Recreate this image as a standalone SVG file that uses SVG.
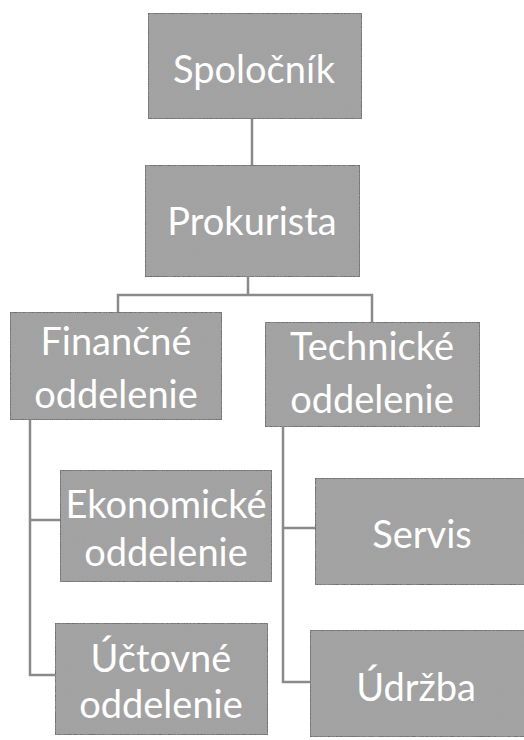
<svg xmlns="http://www.w3.org/2000/svg" width="524" height="740" viewBox="0 0 524 740">
<defs>
<filter id="grain" x="0" y="0" width="100%" height="100%">
<feTurbulence type="fractalNoise" baseFrequency="0.9" numOctaves="2" seed="3" result="n"/>
<feColorMatrix in="n" type="matrix" values="0 0 0 0 0.35  0 0 0 0 0.35  0 0 0 0 0.35  0 0 0 1.6 -0.55" result="g"/>
<feComposite in="g" in2="SourceGraphic" operator="atop"/>
</filter>
<style>
.box{fill:#a3a3a3;stroke:#6e6e6e;stroke-width:2}
.lbl{font-family:Lato,"Open Sans","Noto Sans",sans-serif;font-size:38px;fill:#ffffff;text-anchor:middle;dominant-baseline:central}
.conn{fill:none;stroke:#8a8a8a;stroke-width:2.5}
</style>
</defs>
<rect width="524" height="740" fill="#ffffff"/>
<g id="connectors">
<path class="conn" d="M252 118 V165"/>
<path class="conn" d="M248 277 V295"/>
<path class="conn" d="M118 312 V295 H372 V322"/>
<path class="conn" d="M30 420 V675 H55"/>
<path class="conn" d="M30 520 H60"/>
<path class="conn" d="M283 427 V682 H310"/>
<path class="conn" d="M283 528 H315"/>
</g>
<g id="spolocnik">
<rect class="box" x="148" y="13" width="214" height="106" filter="url(#grain)"/>
<text class="lbl" x="254" y="68">Spoločník</text>
</g>
<g id="prokurista">
<rect class="box" x="145" y="165" width="215" height="112" filter="url(#grain)"/>
<text class="lbl" x="252" y="220">Prokurista</text>
</g>
<g id="financne">
<rect class="box" x="10" y="312" width="212" height="108" filter="url(#grain)"/>
<text class="lbl" x="116" y="340">Finančné</text>
<text class="lbl" x="116" y="393">oddelenie</text>
</g>
<g id="technicke">
<rect class="box" x="265" y="322" width="215" height="105" filter="url(#grain)"/>
<text class="lbl" x="372" y="345">Technické</text>
<text class="lbl" x="372" y="398">oddelenie</text>
</g>
<g id="ekonomicke">
<rect class="box" x="60" y="470" width="212" height="112" filter="url(#grain)"/>
<text class="lbl" x="166" y="503">Ekonomické</text>
<text class="lbl" x="166" y="551">oddelenie</text>
</g>
<g id="uctovne">
<rect class="box" x="55" y="623" width="213" height="112" filter="url(#grain)"/>
<text class="lbl" x="161" y="657">Účtovné</text>
<text class="lbl" x="161" y="703">oddelenie</text>
</g>
<g id="servis">
<rect class="box" x="315" y="478" width="220" height="107" filter="url(#grain)"/>
<text class="lbl" x="422" y="533">Servis</text>
</g>
<g id="udrzba">
<rect class="box" x="310" y="630" width="225" height="107" filter="url(#grain)"/>
<text class="lbl" x="416" y="686">Údržba</text>
</g>
</svg>
